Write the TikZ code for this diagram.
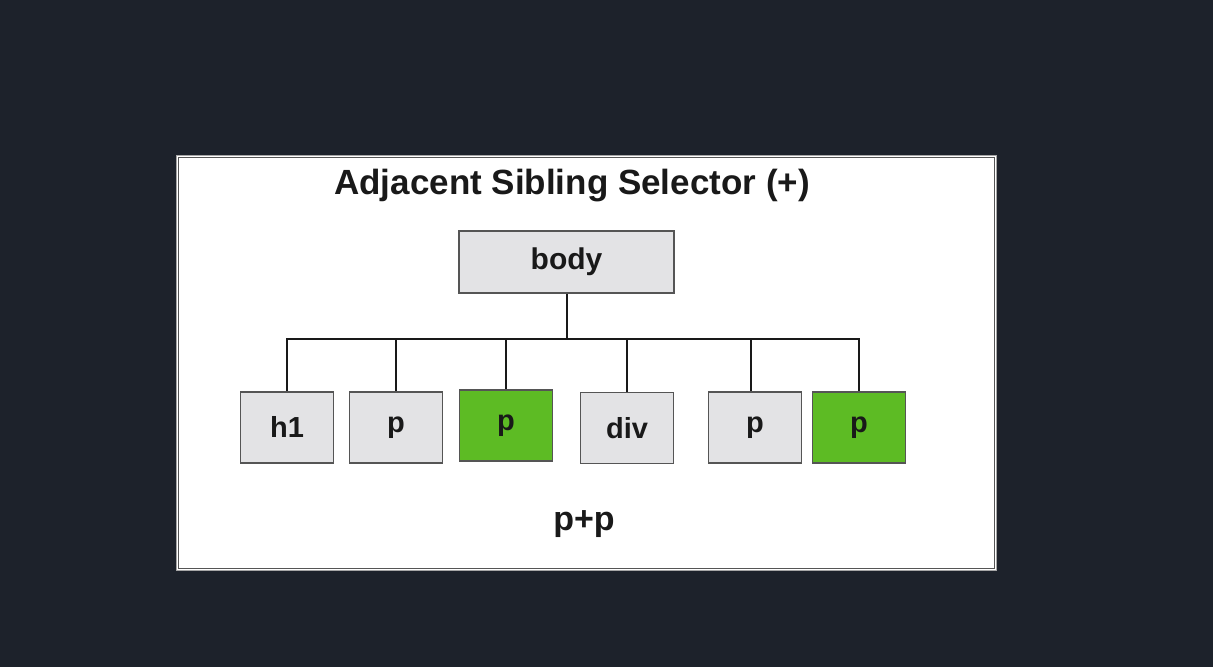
\documentclass[tikz,border=0pt]{standalone}
\usepackage{fontspec}
\setmainfont{Liberation Sans}
\definecolor{bg}{HTML}{1D222B}
\definecolor{boxgray}{HTML}{E3E3E5}
\definecolor{boxgreen}{HTML}{5DBB24}
\definecolor{edge}{HTML}{555555}
\begin{document}
\begin{tikzpicture}[x=1pt,y=-1pt,
  tag/.style={draw=edge,line width=1.3pt,minimum width=93pt,minimum height=71pt,inner sep=0pt,
    font=\fontsize{29}{29}\selectfont\bfseries,text=black!90},
  graybox/.style={tag,fill=boxgray},
  greenbox/.style={tag,fill=boxgreen},
  wire/.style={line width=2pt,black!90}]
\fill[bg] (0,0) rectangle (1213,667);
\useasboundingbox (0,0) rectangle (1213,667);
\draw[fill=white,draw=gray!70,line width=1.2pt] (176.5,155.5) rectangle (996.5,570.5);
\draw[draw=edge,line width=0.6pt] (178.5,157.5) rectangle (994.5,568.5);
\node[font=\fontsize{35}{35}\selectfont\bfseries,text=black!90] (title) at (572,186) {Adjacent Sibling Selector (+)};
\node[graybox,minimum width=215pt,minimum height=62pt,font=\fontsize{30}{30}\selectfont\bfseries] (body) at (566.5,262) {body};
\node[graybox] (h1) at (287,427.5) {\raisebox{2pt}{h1}};
\node[graybox] (p1) at (396,427.5) {p};
\node[greenbox] (p2) at (506,425.5) {p};
\node[graybox] (div) at (627,428) {div};
\node[graybox] (p3) at (755,427.5) {p};
\node[greenbox] (p4) at (859,427.5) {p};
\node[font=\fontsize{34}{34}\selectfont\bfseries,text=black!90] (sel) at (584,524) {p+p};
\coordinate (hub) at (566.5,339);
\draw[wire] (body.south) -- (hub);
\draw[wire,line cap=rect] (h1.north |- hub) -- (p4.north |- hub);
\draw[wire] (h1.north |- hub) -- (h1.north);
\draw[wire] (p1.north |- hub) -- (p1.north);
\draw[wire] (p2.north |- hub) -- (p2.north);
\draw[wire] (div.north |- hub) -- (div.north);
\draw[wire] ([xshift=-4pt]p3.north |- hub) -- ([xshift=-4pt]p3.north);
\draw[wire] (p4.north |- hub) -- (p4.north);
\end{tikzpicture}
\end{document}
